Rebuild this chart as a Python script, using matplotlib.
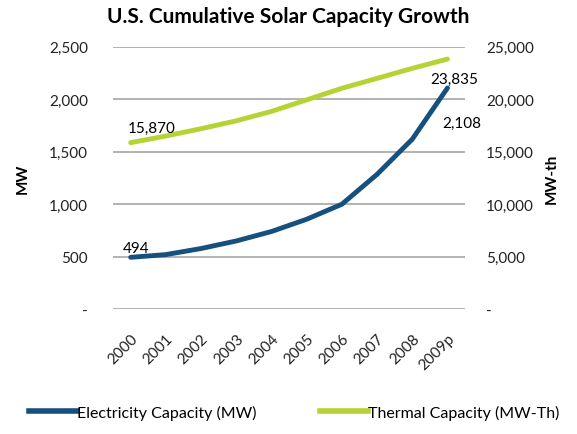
import matplotlib
matplotlib.use("Agg")
import matplotlib.pyplot as plt
from matplotlib.ticker import FuncFormatter

plt.rcParams['font.family'] = ['Lato', 'DejaVu Sans']

years = ['2000', '2001', '2002', '2003', '2004', '2005', '2006', '2007', '2008', '2009p']
electricity_mw = [494, 520, 578, 650, 740, 857, 1000, 1285, 1620, 2108]
thermal_mwth = [15870, 16500, 17200, 17950, 18850, 19950, 21050, 22000, 22950, 23835]

blue = '#15507f'
green = '#b5d334'
grid_c = '#a6a6a6'


def left_fmt(v, pos):
    return '-' if v == 0 else f'{int(v):,}'


fig = plt.figure(figsize=(5.77, 4.35), dpi=100)
ax = fig.add_axes([0.196, 0.287, 0.61, 0.603])
ax2 = ax.twinx()

x = list(range(len(years)))
ax.plot(x, electricity_mw, color=blue, lw=3.5, solid_capstyle='round', zorder=3)
ax2.plot(x, thermal_mwth, color=green, lw=3.5, solid_capstyle='round', zorder=3)

ax.set_xlim(-0.5, len(years) - 0.5)
ax.set_ylim(0, 2500)
ax2.set_ylim(0, 25000)
ax.set_yticks(range(0, 2501, 500))
ax2.set_yticks(range(0, 25001, 5000))
ax.yaxis.set_major_formatter(FuncFormatter(left_fmt))
ax2.yaxis.set_major_formatter(FuncFormatter(left_fmt))
ax.grid(axis='y', color=grid_c, lw=1.2)
ax.set_axisbelow(True)

for a in (ax, ax2):
    for s in a.spines.values():
        s.set_visible(False)
    a.tick_params(length=0, labelsize=11, colors='#222222')
ax.tick_params(axis='y', pad=18)
ax2.tick_params(axis='y', pad=15)

ax.set_xticks(x)
ax.set_xticklabels(years, rotation=45, ha='right', rotation_mode='anchor', fontsize=11)
ax.tick_params(axis='x', pad=16)

ax.set_ylabel('MW', fontsize=11, fontweight='bold', labelpad=14)
ax2.set_ylabel('MW-th', fontsize=11, fontweight='bold', labelpad=8)

# data labels
ax.annotate(f'{electricity_mw[0]:,}', (x[0], electricity_mw[0]), xytext=(-6, 4),
            textcoords='offset points', fontsize=11)
ax.annotate(f'{electricity_mw[-1]:,}', (x[-1], electricity_mw[-1]), xytext=(-4, -28),
            textcoords='offset points', fontsize=11)
ax2.annotate(f'{thermal_mwth[0]:,}', (x[0], thermal_mwth[0]), xytext=(-2, 8),
             textcoords='offset points', fontsize=11)
ax2.annotate(f'{thermal_mwth[-1]:,}', (x[-1], thermal_mwth[-1]), xytext=(-12, -17),
             textcoords='offset points', fontsize=11)

fig.suptitle('U.S. Cumulative Solar Capacity Growth', x=0.5, y=0.985,
             fontsize=15, fontweight='bold')

h1, = ax.plot([], [], color=blue, lw=4, label='Electricity Capacity (MW)')
h2, = ax.plot([], [], color=green, lw=4, label='Thermal Capacity (MW-Th)')
fig.legend(handles=[h1, h2], loc='lower center', bbox_to_anchor=(0.51, 0.0), ncol=2,
           frameon=False, fontsize=11.5, handlelength=3.0, handletextpad=0.0,
           columnspacing=4.0)

fig.savefig('out.png', dpi=100)
